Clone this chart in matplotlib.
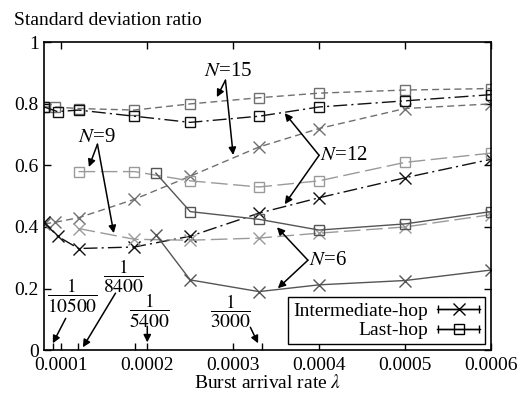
import numpy as np
import matplotlib
matplotlib.use('Agg')
import matplotlib.pyplot as plt
from matplotlib.container import ErrorbarContainer
from matplotlib.legend_handler import HandlerErrorbar

plt.rcParams['font.family'] = ['Liberation Serif', 'DejaVu Serif']
plt.rcParams['mathtext.fontset'] = 'stix'
plt.rcParams['font.size'] = 14

# burst arrival rates for each system size
x_n15 = [0.00008, 0.000092, 0.00012, 0.000185, 0.00025, 0.00033, 0.0004, 0.0005, 0.0006]
x_n12 = [0.00008, 0.0000955, 0.00012, 0.000185, 0.00025, 0.00033, 0.0004, 0.0005, 0.0006]
x_n9 = [0.00012, 0.000185, 0.00025, 0.00033, 0.0004, 0.0005, 0.0006]
x_n6 = [0.00021, 0.00025, 0.00033, 0.0004, 0.0005, 0.0006]

# standard deviation ratios
last_n15 = [0.79, 0.79, 0.785, 0.78, 0.80, 0.82, 0.835, 0.845, 0.85]
inter_n15 = [0.41, 0.415, 0.43, 0.49, 0.565, 0.66, 0.72, 0.785, 0.80]
last_n12 = [0.79, 0.775, 0.78, 0.76, 0.74, 0.76, 0.79, 0.81, 0.83]
inter_n12 = [0.415, 0.37, 0.33, 0.335, 0.37, 0.445, 0.495, 0.56, 0.62]
last_n9 = [0.58, 0.58, 0.55, 0.53, 0.55, 0.61, 0.64]
inter_n9 = [0.395, 0.36, 0.357, 0.364, 0.38, 0.40, 0.44]
last_n6 = [0.575, 0.45, 0.425, 0.39, 0.41, 0.45]
inter_n6 = [0.375, 0.228, 0.19, 0.212, 0.226, 0.26]

fig = plt.figure(figsize=(5.2, 3.96), dpi=100)
ax = fig.add_axes([0.085, 0.116, 0.859, 0.777])

styles = [
    (x_n15, last_n15, inter_n15, '#707070', (0, (5, 3))),
    (x_n12, last_n12, inter_n12, '#111111', (0, (10, 3, 1.5, 3))),
    (x_n9, last_n9, inter_n9, '#9a9a9a', (0, (12, 4))),
    (x_n6, last_n6, inter_n6, '#555555', '-'),
]
for xs, last, inter, col, ls in styles:
    ax.plot(xs, last, color=col, linestyle=ls, linewidth=1.0, marker='s',
            markersize=7, markerfacecolor='none', markeredgecolor=col, markeredgewidth=1.0)
    ax.plot(xs, inter, color=col, linestyle=ls, linewidth=1.0, marker='x',
            markersize=8, markeredgewidth=1.0)

ax.set_xlim(0.00008, 0.0006)
ax.set_ylim(0, 1)
ax.set_xticks([0.0001, 0.0002, 0.0003, 0.0004, 0.0005, 0.0006])
ax.set_xticklabels(['0.0001', '0.0002', '0.0003', '0.0004', '0.0005', '0.0006'])
ax.set_xticks([0.00009, 1 / 8400, 1 / 5400, 1 / 3000], minor=True)
ax.set_yticks([0, 0.2, 0.4, 0.6, 0.8, 1])
ax.set_yticklabels(['0', '0.2', '0.4', '0.6', '0.8', '1'])
ax.tick_params(which='major', direction='in', length=5, width=1, top=True, right=True,
               labelsize=14)
ax.tick_params(axis='x', which='major', pad=5)
ax.tick_params(axis='y', which='major', pad=4)
ax.tick_params(which='minor', direction='in', length=5, width=1, top=False, right=False)
for s in ax.spines.values():
    s.set_linewidth(1.2)

ax.set_xlabel(r'Burst arrival rate $\lambda$', fontsize=14, labelpad=0)
fig.text(0.027, 0.948, 'Standard deviation ratio', fontsize=14, ha='left', va='center')

arr = dict(arrowstyle='-|>', color='k', lw=1.1, mutation_scale=11, shrinkA=0, shrinkB=0)

def label_arrows(txt, txy, origin, tips, ha='center', size=15):
    ax.text(txy[0], txy[1], txt, fontsize=size, ha=ha, va='center')
    for tip in tips:
        ax.annotate('', xy=tip, xytext=origin, arrowprops=arr)

label_arrows('$N$=15', (0.000294, 0.905), (0.000291, 0.877), [(0.000281, 0.822), (0.0003, 0.634)])
label_arrows('$N$=9', (0.000141, 0.69), (0.000142, 0.669), [(0.000132, 0.595), (0.000161, 0.38)])
label_arrows('$N$=12', (0.000401, 0.633), (0.0004, 0.633), [(0.00036, 0.77), (0.00036, 0.474)], ha='left')
label_arrows('$N$=6', (0.000388, 0.292), (0.000387, 0.292), [(0.000351, 0.399), (0.000352, 0.201)], ha='left')

label_arrows(r'$\dfrac{1}{10500}$', (0.000113, 0.175), (0.000105, 0.103), [(0.00009, 0.022)], size=14)
label_arrows(r'$\dfrac{1}{8400}$', (0.000172, 0.24), (0.000163, 0.185), [(0.000125, 0.009)], size=14)
label_arrows(r'$\dfrac{1}{5400}$', (0.000203, 0.128), (0.0002, 0.077), [(0.0002, 0.025)], size=14)
label_arrows(r'$\dfrac{1}{3000}$', (0.000297, 0.125), (0.00032, 0.074), [(0.000329, 0.022)], size=14)

# legend entries drawn as error bars
h1 = ax.errorbar([np.nan], [np.nan], xerr=[1], fmt='-x', color='k', lw=1,
                 markersize=8, capsize=3, elinewidth=1, label='Intermediate-hop')
h2 = ax.errorbar([np.nan], [np.nan], xerr=[1], fmt='-s', color='k', lw=1,
                 markersize=7, markerfacecolor='none', capsize=3, elinewidth=1, label='Last-hop')
leg = ax.legend(handles=[h1, h2], loc='lower right', markerfirst=False, fontsize=14,
                handlelength=2.2, handletextpad=0.5, borderaxespad=0.3, borderpad=0.25,
                labelspacing=0.1, fancybox=False, framealpha=1, edgecolor='k',
                handler_map={ErrorbarContainer: HandlerErrorbar(xerr_size=1.05)})
leg.get_frame().set_linewidth(1.0)

fig.savefig('out.png', dpi=100)
